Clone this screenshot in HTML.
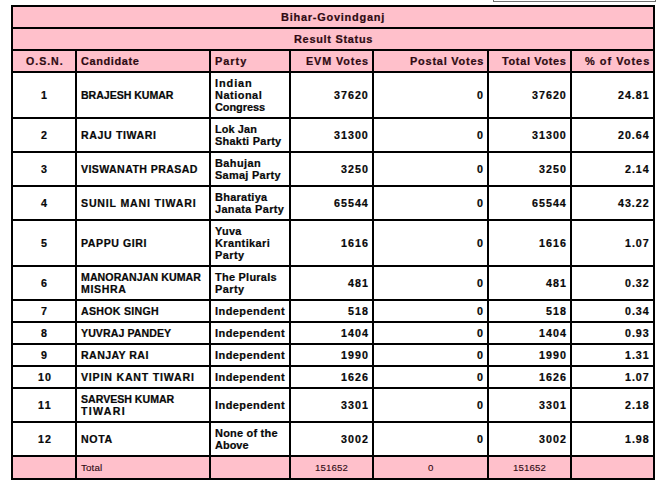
<!DOCTYPE html><html><head><meta charset="utf-8"><style>
html,body{margin:0;padding:0;background:#fff;width:665px;height:494px;overflow:hidden;position:relative}
.h{position:absolute;background:#000;height:2px}
.v{position:absolute;background:#000;width:2px}
.p{position:absolute;background:#ffc0cb}
.t{position:absolute;white-space:pre;font-family:"Liberation Sans",sans-serif;line-height:12px;color:#080808;-webkit-text-stroke:0.2px #080808;}
.t.nw{-webkit-text-stroke-width:0.1px}
.t.hd{color:#2e0a12;-webkit-text-stroke-color:#2e0a12}
</style></head><body>
<div style="position:absolute;box-sizing:border-box;left:493px;top:-9px;width:163px;height:11px;border:1px solid #707070;border-top:none"></div>
<div class="p" style="left:13px;top:7px;width:640px;height:20px"></div>
<div class="p" style="left:13px;top:29px;width:640px;height:20px"></div>
<div class="p" style="left:13px;top:51px;width:640px;height:20px"></div>
<div class="p" style="left:13px;top:457px;width:640px;height:21px"></div>
<div class="h" style="left:11px;top:5px;width:644px"></div>
<div class="h" style="left:11px;top:27px;width:644px"></div>
<div class="h" style="left:11px;top:49px;width:644px"></div>
<div class="h" style="left:11px;top:71px;width:644px"></div>
<div class="h" style="left:11px;top:117px;width:644px"></div>
<div class="h" style="left:11px;top:151px;width:644px"></div>
<div class="h" style="left:11px;top:185px;width:644px"></div>
<div class="h" style="left:11px;top:219px;width:644px"></div>
<div class="h" style="left:11px;top:265px;width:644px"></div>
<div class="h" style="left:11px;top:299px;width:644px"></div>
<div class="h" style="left:11px;top:321px;width:644px"></div>
<div class="h" style="left:11px;top:343px;width:644px"></div>
<div class="h" style="left:11px;top:365px;width:644px"></div>
<div class="h" style="left:11px;top:387px;width:644px"></div>
<div class="h" style="left:11px;top:421px;width:644px"></div>
<div class="h" style="left:11px;top:455px;width:644px"></div>
<div class="h" style="left:11px;top:478px;width:644px"></div>
<div class="v" style="left:11px;top:5px;height:475px"></div>
<div class="v" style="left:75px;top:49px;height:431px"></div>
<div class="v" style="left:209px;top:49px;height:431px"></div>
<div class="v" style="left:289px;top:49px;height:431px"></div>
<div class="v" style="left:372px;top:49px;height:431px"></div>
<div class="v" style="left:487px;top:49px;height:431px"></div>
<div class="v" style="left:570px;top:49px;height:431px"></div>
<div class="v" style="left:653px;top:5px;height:475px"></div>
<div class="t hd" style="left:281.40px;top:12px;font-size:10.00px;font-weight:bold;letter-spacing:0.691px;transform:scaleX(1.095);transform-origin:0 0">Bihar-Govindganj</div>
<div class="t hd" style="left:293.70px;top:34px;font-size:10.00px;font-weight:bold;letter-spacing:0.648px;transform:scaleX(1.093);transform-origin:0 0">Result Status</div>
<div class="t hd" style="left:25.90px;top:56px;font-size:10.00px;font-weight:bold;letter-spacing:0.917px;transform:scaleX(1.060);transform-origin:0 0">O.S.N.</div>
<div class="t hd" style="left:81.00px;top:56px;font-size:10.00px;font-weight:bold;letter-spacing:0.550px;transform:scaleX(1.096);transform-origin:0 0">Candidate</div>
<div class="t hd" style="left:214.60px;top:56px;font-size:10.00px;font-weight:bold;letter-spacing:0.912px;transform:scaleX(1.092);transform-origin:0 0">Party</div>
<div class="t hd" style="left:306.00px;top:56px;font-size:10.00px;font-weight:bold;letter-spacing:0.819px;transform:scaleX(1.080);transform-origin:0 0">EVM Votes</div>
<div class="t hd" style="left:409.70px;top:56px;font-size:10.00px;font-weight:bold;letter-spacing:0.711px;transform:scaleX(1.093);transform-origin:0 0">Postal Votes</div>
<div class="t hd" style="left:502.00px;top:56px;font-size:10.00px;font-weight:bold;letter-spacing:0.612px;transform:scaleX(1.092);transform-origin:0 0">Total Votes</div>
<div class="t hd" style="left:585.00px;top:56px;font-size:10.00px;font-weight:bold;letter-spacing:0.932px;transform:scaleX(1.094);transform-origin:0 0">% of Votes</div>
<div class="t" style="left:41.00px;top:90px;font-size:10.00px;font-weight:bold;letter-spacing:0.000px;transform:scaleX(1.070);transform-origin:0 0">1</div>
<div class="t" style="left:81.00px;top:90px;font-size:10.00px;font-weight:bold;letter-spacing:-0.045px;transform:scaleX(1.060);transform-origin:0 0">BRAJESH KUMAR</div>
<div class="t" style="left:215.00px;top:78px;font-size:10.00px;font-weight:bold;letter-spacing:0.838px;transform:scaleX(1.093);transform-origin:0 0">Indian</div>
<div class="t" style="left:215.00px;top:90px;font-size:10.00px;font-weight:bold;letter-spacing:0.465px;transform:scaleX(1.095);transform-origin:0 0">National</div>
<div class="t" style="left:215.00px;top:102px;font-size:10.00px;font-weight:bold;letter-spacing:-0.052px;transform:scaleX(1.095);transform-origin:0 0">Congress</div>
<div class="t" style="left:334.00px;top:90px;font-size:10.00px;font-weight:bold;letter-spacing:0.942px;transform:scaleX(1.070);transform-origin:0 0">37620</div>
<div class="t" style="left:477.00px;top:90px;font-size:10.00px;font-weight:bold;letter-spacing:0.000px;transform:scaleX(1.070);transform-origin:0 0">0</div>
<div class="t" style="left:532.00px;top:90px;font-size:10.00px;font-weight:bold;letter-spacing:0.942px;transform:scaleX(1.070);transform-origin:0 0">37620</div>
<div class="t" style="left:618.00px;top:90px;font-size:10.00px;font-weight:bold;letter-spacing:0.908px;transform:scaleX(1.070);transform-origin:0 0">24.81</div>
<div class="t" style="left:41.00px;top:130px;font-size:10.00px;font-weight:bold;letter-spacing:0.000px;transform:scaleX(1.070);transform-origin:0 0">2</div>
<div class="t" style="left:81.00px;top:130px;font-size:10.00px;font-weight:bold;letter-spacing:0.580px;transform:scaleX(1.060);transform-origin:0 0">RAJU TIWARI</div>
<div class="t" style="left:215.00px;top:124px;font-size:10.00px;font-weight:bold;letter-spacing:0.109px;transform:scaleX(1.087);transform-origin:0 0">Lok Jan</div>
<div class="t" style="left:215.00px;top:136px;font-size:10.00px;font-weight:bold;letter-spacing:0.246px;transform:scaleX(1.093);transform-origin:0 0">Shakti Party</div>
<div class="t" style="left:334.00px;top:130px;font-size:10.00px;font-weight:bold;letter-spacing:0.942px;transform:scaleX(1.070);transform-origin:0 0">31300</div>
<div class="t" style="left:477.00px;top:130px;font-size:10.00px;font-weight:bold;letter-spacing:0.000px;transform:scaleX(1.070);transform-origin:0 0">0</div>
<div class="t" style="left:532.00px;top:130px;font-size:10.00px;font-weight:bold;letter-spacing:0.942px;transform:scaleX(1.070);transform-origin:0 0">31300</div>
<div class="t" style="left:618.00px;top:130px;font-size:10.00px;font-weight:bold;letter-spacing:0.908px;transform:scaleX(1.070);transform-origin:0 0">20.64</div>
<div class="t" style="left:41.00px;top:164px;font-size:10.00px;font-weight:bold;letter-spacing:0.000px;transform:scaleX(1.070);transform-origin:0 0">3</div>
<div class="t" style="left:81.00px;top:164px;font-size:10.00px;font-weight:bold;letter-spacing:0.369px;transform:scaleX(1.060);transform-origin:0 0">VISWANATH PRASAD</div>
<div class="t" style="left:215.00px;top:158px;font-size:10.00px;font-weight:bold;letter-spacing:0.387px;transform:scaleX(1.094);transform-origin:0 0">Bahujan</div>
<div class="t" style="left:215.00px;top:170px;font-size:10.00px;font-weight:bold;letter-spacing:0.278px;transform:scaleX(1.092);transform-origin:0 0">Samaj Party</div>
<div class="t" style="left:341.00px;top:164px;font-size:10.00px;font-weight:bold;letter-spacing:0.943px;transform:scaleX(1.070);transform-origin:0 0">3250</div>
<div class="t" style="left:477.00px;top:164px;font-size:10.00px;font-weight:bold;letter-spacing:0.000px;transform:scaleX(1.070);transform-origin:0 0">0</div>
<div class="t" style="left:539.00px;top:164px;font-size:10.00px;font-weight:bold;letter-spacing:0.943px;transform:scaleX(1.070);transform-origin:0 0">3250</div>
<div class="t" style="left:625.00px;top:164px;font-size:10.00px;font-weight:bold;letter-spacing:0.901px;transform:scaleX(1.070);transform-origin:0 0">2.14</div>
<div class="t" style="left:41.00px;top:198px;font-size:10.00px;font-weight:bold;letter-spacing:0.000px;transform:scaleX(1.070);transform-origin:0 0">4</div>
<div class="t" style="left:81.00px;top:198px;font-size:10.00px;font-weight:bold;letter-spacing:0.765px;transform:scaleX(1.060);transform-origin:0 0">SUNIL MANI TIWARI</div>
<div class="t" style="left:215.00px;top:192px;font-size:10.00px;font-weight:bold;letter-spacing:0.251px;transform:scaleX(1.096);transform-origin:0 0">Bharatiya</div>
<div class="t" style="left:215.00px;top:204px;font-size:10.00px;font-weight:bold;letter-spacing:0.318px;transform:scaleX(1.093);transform-origin:0 0">Janata Party</div>
<div class="t" style="left:334.00px;top:198px;font-size:10.00px;font-weight:bold;letter-spacing:0.942px;transform:scaleX(1.070);transform-origin:0 0">65544</div>
<div class="t" style="left:477.00px;top:198px;font-size:10.00px;font-weight:bold;letter-spacing:0.000px;transform:scaleX(1.070);transform-origin:0 0">0</div>
<div class="t" style="left:532.00px;top:198px;font-size:10.00px;font-weight:bold;letter-spacing:0.942px;transform:scaleX(1.070);transform-origin:0 0">65544</div>
<div class="t" style="left:618.00px;top:198px;font-size:10.00px;font-weight:bold;letter-spacing:0.908px;transform:scaleX(1.070);transform-origin:0 0">43.22</div>
<div class="t" style="left:41.00px;top:238px;font-size:10.00px;font-weight:bold;letter-spacing:0.000px;transform:scaleX(1.070);transform-origin:0 0">5</div>
<div class="t" style="left:81.00px;top:238px;font-size:10.00px;font-weight:bold;letter-spacing:0.521px;transform:scaleX(1.060);transform-origin:0 0">PAPPU GIRI</div>
<div class="t" style="left:215.00px;top:226px;font-size:10.00px;font-weight:bold;letter-spacing:0.270px;transform:scaleX(1.090);transform-origin:0 0">Yuva</div>
<div class="t" style="left:215.00px;top:238px;font-size:10.00px;font-weight:bold;letter-spacing:0.366px;transform:scaleX(1.096);transform-origin:0 0">Krantikari</div>
<div class="t" style="left:215.00px;top:250px;font-size:10.00px;font-weight:bold;letter-spacing:0.408px;transform:scaleX(1.092);transform-origin:0 0">Party</div>
<div class="t" style="left:341.00px;top:238px;font-size:10.00px;font-weight:bold;letter-spacing:0.943px;transform:scaleX(1.070);transform-origin:0 0">1616</div>
<div class="t" style="left:477.00px;top:238px;font-size:10.00px;font-weight:bold;letter-spacing:0.000px;transform:scaleX(1.070);transform-origin:0 0">0</div>
<div class="t" style="left:539.00px;top:238px;font-size:10.00px;font-weight:bold;letter-spacing:0.943px;transform:scaleX(1.070);transform-origin:0 0">1616</div>
<div class="t" style="left:625.00px;top:238px;font-size:10.00px;font-weight:bold;letter-spacing:0.901px;transform:scaleX(1.070);transform-origin:0 0">1.07</div>
<div class="t" style="left:41.00px;top:278px;font-size:10.00px;font-weight:bold;letter-spacing:0.000px;transform:scaleX(1.070);transform-origin:0 0">6</div>
<div class="t" style="left:81.00px;top:272px;font-size:10.00px;font-weight:bold;letter-spacing:0.061px;transform:scaleX(1.060);transform-origin:0 0">MANORANJAN KUMAR</div>
<div class="t" style="left:81.00px;top:284px;font-size:10.00px;font-weight:bold;letter-spacing:0.602px;transform:scaleX(1.060);transform-origin:0 0">MISHRA</div>
<div class="t" style="left:215.00px;top:272px;font-size:10.00px;font-weight:bold;letter-spacing:0.246px;transform:scaleX(1.092);transform-origin:0 0">The Plurals</div>
<div class="t" style="left:215.00px;top:284px;font-size:10.00px;font-weight:bold;letter-spacing:0.408px;transform:scaleX(1.092);transform-origin:0 0">Party</div>
<div class="t" style="left:348.00px;top:278px;font-size:10.00px;font-weight:bold;letter-spacing:0.941px;transform:scaleX(1.070);transform-origin:0 0">481</div>
<div class="t" style="left:477.00px;top:278px;font-size:10.00px;font-weight:bold;letter-spacing:0.000px;transform:scaleX(1.070);transform-origin:0 0">0</div>
<div class="t" style="left:546.00px;top:278px;font-size:10.00px;font-weight:bold;letter-spacing:0.941px;transform:scaleX(1.070);transform-origin:0 0">481</div>
<div class="t" style="left:625.00px;top:278px;font-size:10.00px;font-weight:bold;letter-spacing:0.901px;transform:scaleX(1.070);transform-origin:0 0">0.32</div>
<div class="t" style="left:41.00px;top:306px;font-size:10.00px;font-weight:bold;letter-spacing:0.000px;transform:scaleX(1.070);transform-origin:0 0">7</div>
<div class="t" style="left:81.00px;top:306px;font-size:10.00px;font-weight:bold;letter-spacing:0.278px;transform:scaleX(1.060);transform-origin:0 0">ASHOK SINGH</div>
<div class="t" style="left:215.00px;top:306px;font-size:10.00px;font-weight:bold;letter-spacing:0.412px;transform:scaleX(1.096);transform-origin:0 0">Independent</div>
<div class="t" style="left:348.00px;top:306px;font-size:10.00px;font-weight:bold;letter-spacing:0.941px;transform:scaleX(1.070);transform-origin:0 0">518</div>
<div class="t" style="left:477.00px;top:306px;font-size:10.00px;font-weight:bold;letter-spacing:0.000px;transform:scaleX(1.070);transform-origin:0 0">0</div>
<div class="t" style="left:546.00px;top:306px;font-size:10.00px;font-weight:bold;letter-spacing:0.941px;transform:scaleX(1.070);transform-origin:0 0">518</div>
<div class="t" style="left:625.00px;top:306px;font-size:10.00px;font-weight:bold;letter-spacing:0.901px;transform:scaleX(1.070);transform-origin:0 0">0.34</div>
<div class="t" style="left:41.00px;top:328px;font-size:10.00px;font-weight:bold;letter-spacing:0.000px;transform:scaleX(1.070);transform-origin:0 0">8</div>
<div class="t" style="left:81.00px;top:328px;font-size:10.00px;font-weight:bold;letter-spacing:0.063px;transform:scaleX(1.060);transform-origin:0 0">YUVRAJ PANDEY</div>
<div class="t" style="left:215.00px;top:328px;font-size:10.00px;font-weight:bold;letter-spacing:0.412px;transform:scaleX(1.096);transform-origin:0 0">Independent</div>
<div class="t" style="left:341.00px;top:328px;font-size:10.00px;font-weight:bold;letter-spacing:0.943px;transform:scaleX(1.070);transform-origin:0 0">1404</div>
<div class="t" style="left:477.00px;top:328px;font-size:10.00px;font-weight:bold;letter-spacing:0.000px;transform:scaleX(1.070);transform-origin:0 0">0</div>
<div class="t" style="left:539.00px;top:328px;font-size:10.00px;font-weight:bold;letter-spacing:0.943px;transform:scaleX(1.070);transform-origin:0 0">1404</div>
<div class="t" style="left:625.00px;top:328px;font-size:10.00px;font-weight:bold;letter-spacing:0.901px;transform:scaleX(1.070);transform-origin:0 0">0.93</div>
<div class="t" style="left:41.00px;top:350px;font-size:10.00px;font-weight:bold;letter-spacing:0.000px;transform:scaleX(1.070);transform-origin:0 0">9</div>
<div class="t" style="left:81.00px;top:350px;font-size:10.00px;font-weight:bold;letter-spacing:0.389px;transform:scaleX(1.060);transform-origin:0 0">RANJAY RAI</div>
<div class="t" style="left:215.00px;top:350px;font-size:10.00px;font-weight:bold;letter-spacing:0.412px;transform:scaleX(1.096);transform-origin:0 0">Independent</div>
<div class="t" style="left:341.00px;top:350px;font-size:10.00px;font-weight:bold;letter-spacing:0.943px;transform:scaleX(1.070);transform-origin:0 0">1990</div>
<div class="t" style="left:477.00px;top:350px;font-size:10.00px;font-weight:bold;letter-spacing:0.000px;transform:scaleX(1.070);transform-origin:0 0">0</div>
<div class="t" style="left:539.00px;top:350px;font-size:10.00px;font-weight:bold;letter-spacing:0.943px;transform:scaleX(1.070);transform-origin:0 0">1990</div>
<div class="t" style="left:625.00px;top:350px;font-size:10.00px;font-weight:bold;letter-spacing:0.901px;transform:scaleX(1.070);transform-origin:0 0">1.31</div>
<div class="t" style="left:37.50px;top:372px;font-size:10.00px;font-weight:bold;letter-spacing:0.943px;transform:scaleX(1.070);transform-origin:0 0">10</div>
<div class="t" style="left:81.00px;top:372px;font-size:10.00px;font-weight:bold;letter-spacing:0.754px;transform:scaleX(1.060);transform-origin:0 0">VIPIN KANT TIWARI</div>
<div class="t" style="left:215.00px;top:372px;font-size:10.00px;font-weight:bold;letter-spacing:0.412px;transform:scaleX(1.096);transform-origin:0 0">Independent</div>
<div class="t" style="left:341.00px;top:372px;font-size:10.00px;font-weight:bold;letter-spacing:0.943px;transform:scaleX(1.070);transform-origin:0 0">1626</div>
<div class="t" style="left:477.00px;top:372px;font-size:10.00px;font-weight:bold;letter-spacing:0.000px;transform:scaleX(1.070);transform-origin:0 0">0</div>
<div class="t" style="left:539.00px;top:372px;font-size:10.00px;font-weight:bold;letter-spacing:0.943px;transform:scaleX(1.070);transform-origin:0 0">1626</div>
<div class="t" style="left:625.00px;top:372px;font-size:10.00px;font-weight:bold;letter-spacing:0.901px;transform:scaleX(1.070);transform-origin:0 0">1.07</div>
<div class="t" style="left:37.50px;top:400px;font-size:10.00px;font-weight:bold;letter-spacing:1.216px;transform:scaleX(1.070);transform-origin:0 0">11</div>
<div class="t" style="left:81.00px;top:394px;font-size:10.00px;font-weight:bold;letter-spacing:-0.016px;transform:scaleX(1.060);transform-origin:0 0">SARVESH KUMAR</div>
<div class="t" style="left:81.00px;top:406px;font-size:10.00px;font-weight:bold;letter-spacing:1.257px;transform:scaleX(1.060);transform-origin:0 0">TIWARI</div>
<div class="t" style="left:215.00px;top:400px;font-size:10.00px;font-weight:bold;letter-spacing:0.412px;transform:scaleX(1.096);transform-origin:0 0">Independent</div>
<div class="t" style="left:341.00px;top:400px;font-size:10.00px;font-weight:bold;letter-spacing:0.943px;transform:scaleX(1.070);transform-origin:0 0">3301</div>
<div class="t" style="left:477.00px;top:400px;font-size:10.00px;font-weight:bold;letter-spacing:0.000px;transform:scaleX(1.070);transform-origin:0 0">0</div>
<div class="t" style="left:539.00px;top:400px;font-size:10.00px;font-weight:bold;letter-spacing:0.943px;transform:scaleX(1.070);transform-origin:0 0">3301</div>
<div class="t" style="left:625.00px;top:400px;font-size:10.00px;font-weight:bold;letter-spacing:0.901px;transform:scaleX(1.070);transform-origin:0 0">2.18</div>
<div class="t" style="left:37.50px;top:434px;font-size:10.00px;font-weight:bold;letter-spacing:0.943px;transform:scaleX(1.070);transform-origin:0 0">12</div>
<div class="t" style="left:81.00px;top:434px;font-size:10.00px;font-weight:bold;letter-spacing:0.583px;transform:scaleX(1.060);transform-origin:0 0">NOTA</div>
<div class="t" style="left:215.00px;top:428px;font-size:10.00px;font-weight:bold;letter-spacing:0.204px;transform:scaleX(1.096);transform-origin:0 0">None of the</div>
<div class="t" style="left:215.00px;top:440px;font-size:10.00px;font-weight:bold;letter-spacing:0.037px;transform:scaleX(1.092);transform-origin:0 0">Above</div>
<div class="t" style="left:341.00px;top:434px;font-size:10.00px;font-weight:bold;letter-spacing:0.943px;transform:scaleX(1.070);transform-origin:0 0">3002</div>
<div class="t" style="left:477.00px;top:434px;font-size:10.00px;font-weight:bold;letter-spacing:0.000px;transform:scaleX(1.070);transform-origin:0 0">0</div>
<div class="t" style="left:539.00px;top:434px;font-size:10.00px;font-weight:bold;letter-spacing:0.943px;transform:scaleX(1.070);transform-origin:0 0">3002</div>
<div class="t" style="left:625.00px;top:434px;font-size:10.00px;font-weight:bold;letter-spacing:0.901px;transform:scaleX(1.070);transform-origin:0 0">1.98</div>
<div class="t hd nw" style="left:81.00px;top:462px;font-size:9.00px;font-weight:normal;letter-spacing:0.095px;transform:scaleX(1.092);transform-origin:0 0">Total</div>
<div class="t hd nw" style="left:314.50px;top:462px;font-size:9.00px;font-weight:normal;letter-spacing:0.157px;transform:scaleX(1.070);transform-origin:0 0">151652</div>
<div class="t hd nw" style="left:428.00px;top:462px;font-size:9.00px;font-weight:normal;letter-spacing:0.000px;transform:scaleX(1.070);transform-origin:0 0">0</div>
<div class="t hd nw" style="left:512.50px;top:462px;font-size:9.00px;font-weight:normal;letter-spacing:0.157px;transform:scaleX(1.070);transform-origin:0 0">151652</div>
</body></html>
